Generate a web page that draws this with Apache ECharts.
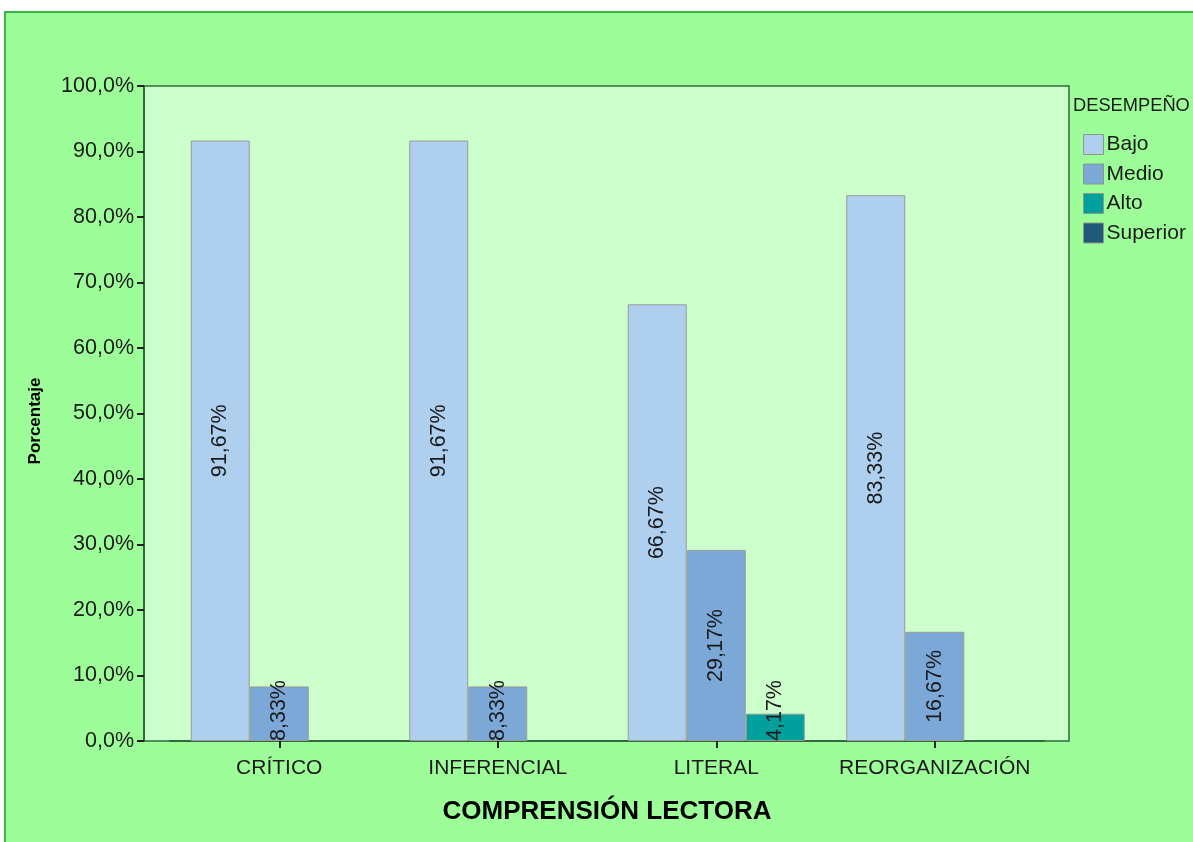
<!DOCTYPE html>
<html>
<head>
<meta charset="utf-8">
<script src="https://cdn.jsdelivr.net/npm/echarts@6/dist/echarts.min.js"></script>
<style>
html,body{margin:0;padding:0;background:#fff;}
#c{width:1193px;height:842px;}
</style>
</head>
<body>
<div id="c"></div>
<script>
const categories = ['CRÍTICO', 'INFERENCIAL', 'LITERAL', 'REORGANIZACIÓN'];
const seriesNames = ['Bajo', 'Medio', 'Alto', 'Superior'];
const bajo = [91.67, 91.67, 66.67, 83.33];
const medio = [8.33, 8.33, 29.17, 16.67];
const alto = [null, null, 4.17, null];
const superior = [null, null, null, null];
const yTicks = [0, 10, 20, 30, 40, 50, 60, 70, 80, 90, 100];

const colors = ['#AECFEE', '#7BA8D6', '#00A19D', '#1E5A77'];
const txt = '#1a1a1a';
const font = '"Liberation Sans", Arial, sans-serif';

function fmtPct(v, d) { return v.toFixed(d).replace('.', ',') + '%'; }

function makeData(arr) {
  return arr.map(v => {
    if (v == null) return null;
    if (v < 10) {
      return { value: v, label: { position: 'insideBottom', align: 'left', verticalAlign: 'middle', distance: 0 } };
    }
    return v;
  });
}

const chart = echarts.init(document.getElementById('c'));
const labelCfg = {
  show: true, position: 'inside', rotate: 90, color: txt, fontSize: 21.5, fontFamily: font,
  formatter: p => fmtPct(p.value, 2)
};
const barSeries = [bajo, medio, alto].map((arr, i) => ({
  name: seriesNames[i], type: 'bar', xAxisIndex: 1, yAxisIndex: 1,
  barWidth: 59, barGap: '0%',
  itemStyle: { color: colors[i], borderColor: '#9a9a9a', borderWidth: 1 },
  label: labelCfg,
  data: makeData(arr)
}));
barSeries.push({
  name: seriesNames[3], type: 'bar', xAxisIndex: 2, yAxisIndex: 1,
  itemStyle: { color: colors[3], borderColor: '#9a9a9a', borderWidth: 1 },
  data: superior
});

chart.setOption({
  backgroundColor: '#fff',
  animation: false,
  textStyle: { fontFamily: font },
  graphic: [{
    type: 'rect', z: -10, silent: true,
    shape: { x: 5, y: 12, width: 1200, height: 840 },
    style: { fill: '#9DFD99', stroke: '#3DB44A', lineWidth: 2 }
  }],
  title: {
    text: 'DESEMPEÑO', left: 1073, top: 97,
    textStyle: { fontSize: 18.3, fontWeight: 'normal', color: txt, fontFamily: font }, padding: 0
  },
  legend: {
    orient: 'vertical', left: 1083, top: 134, padding: 0,
    itemWidth: 20, itemHeight: 20, itemGap: 8.5, icon: 'rect',
    itemStyle: { borderColor: '#8a9a8a', borderWidth: 1 },
    textStyle: { fontSize: 21, color: txt, fontFamily: font, padding: [0, 0, 0, -2] },
    data: seriesNames
  },
  grid: [
    { left: 144, top: 86, width: 925, height: 655, show: true, backgroundColor: '#CCFFCC', borderColor: '#2F6B3A', borderWidth: 1.5 },
    { left: 170, top: 86, width: 874, height: 655 }
  ],
  xAxis: [
    { type: 'value', gridIndex: 0, show: false, min: 0, max: 1 },
    {
      type: 'category', gridIndex: 1, data: categories,
      axisLine: { show: true, lineStyle: { color: '#2F6B3A', width: 2 } },
      axisTick: { show: true, alignWithLabel: true, length: 7, lineStyle: { color: '#222', width: 2 } },
      axisLabel: { color: txt, fontSize: 21, margin: 17, interval: 0, fontFamily: font },
      name: 'COMPRENSIÓN LECTORA', nameLocation: 'middle', nameGap: 58,
      nameTextStyle: { fontSize: 26, fontWeight: 'bold', color: '#000', fontFamily: font }
    },
    { type: 'category', gridIndex: 1, data: categories, show: false }
  ],
  yAxis: [
    {
      type: 'value', gridIndex: 0, min: 0, max: 100, interval: 10,
      axisLine: { show: true, lineStyle: { color: '#2F6B3A', width: 2 } },
      axisTick: { show: true, length: 7, lineStyle: { color: '#222', width: 2 } },
      splitLine: { show: false },
      axisLabel: { color: txt, fontSize: 21.5, margin: 10, fontFamily: font, formatter: v => yTicks.includes(v) ? fmtPct(v, 1) : '' },
      name: 'Porcentaje', nameLocation: 'middle', nameGap: 100,
      nameTextStyle: { fontSize: 17, fontWeight: 'bold', color: '#000', fontFamily: font, padding: [0, 0, 0, -15] }
    },
    { type: 'value', gridIndex: 1, min: 0, max: 100, show: false, splitLine: { show: false } }
  ],
  series: barSeries
});
</script>
</body>
</html>
